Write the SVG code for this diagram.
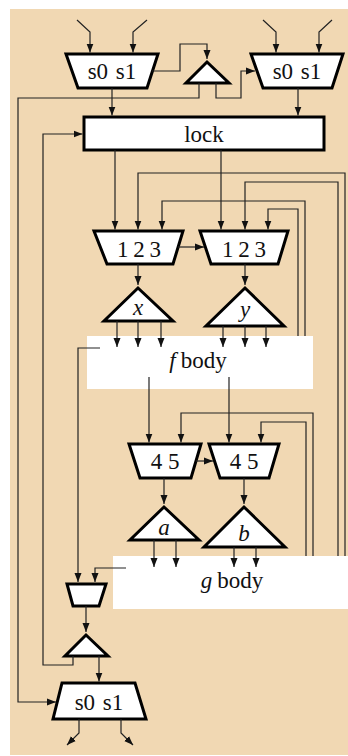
<svg xmlns="http://www.w3.org/2000/svg" width="348" height="756" viewBox="0 0 348 756">
<defs>
<marker id="ah" markerUnits="userSpaceOnUse" markerWidth="9" markerHeight="8" refX="9" refY="4" orient="auto">
<path d="M0,0.5 L9,4 L0,7.5 z" fill="#111"/>
</marker>
<style>
.shp{fill:#fff;stroke:#000;stroke-width:3;stroke-linejoin:miter}
.body{fill:#fff;stroke:none}
.t{font-family:"Liberation Serif","DejaVu Serif",serif;font-size:23px;fill:#111;text-anchor:middle}
.i{font-style:italic}
.c{fill:none;stroke:#222;stroke-width:1.2}
.c path{marker-end:url(#ah)}
</style>
</defs>
<rect x="10" y="9" width="338" height="746" fill="#f1d8b3"/>

<g id="fbody"><rect class="body" x="87" y="336" width="226" height="53"/><text class="t" x="198" y="368"><tspan class="i">f</tspan><tspan dx="5">body</tspan></text></g>
<g id="gbody"><rect class="body" x="113" y="556" width="235" height="53"/><text class="t" x="232" y="588"><tspan class="i">g</tspan><tspan dx="5">body</tspan></text></g>

<g id="mux-top-left"><polygon class="shp" points="66,54 158,54 147,88 78,88"/><text class="t" x="112" y="79" word-spacing="2">s0 s1</text></g>
<g id="mux-top-right"><polygon class="shp" points="251,54 343,54 332,88 263,88"/><text class="t" x="297" y="79" word-spacing="2">s0 s1</text></g>
<g id="tri-top"><polygon class="shp" points="207,62 229,83 186,83"/></g>
<g id="lock"><rect class="shp" x="84" y="117" width="240" height="33"/><text class="t" x="204" y="142">lock</text></g>
<g id="mux123a"><polygon class="shp" points="94,231 183,231 173,264 107,264"/><text class="t" x="139" y="257" word-spacing="-1">1 2 3</text></g>
<g id="mux123b"><polygon class="shp" points="200,231 288,231 278,264 211,264"/><text class="t" x="244" y="257" word-spacing="-1">1 2 3</text></g>
<g id="tri-x"><polygon class="shp" points="138,288 173,321 104,321"/><text class="t i" x="138" y="315">x</text></g>
<g id="tri-y"><polygon class="shp" points="245,288 284,326 206,326"/><text class="t i" x="245" y="317">y</text></g>
<g id="mux45a"><polygon class="shp" points="129,444 201,444 191,478 140,478"/><text class="t" x="165" y="469">4 5</text></g>
<g id="mux45b"><polygon class="shp" points="209,444 279,444 269,478 220,478"/><text class="t" x="244" y="469">4 5</text></g>
<g id="tri-a"><polygon class="shp" points="164,507 199,540 130,540"/><text class="t i" x="164" y="535">a</text></g>
<g id="tri-b"><polygon class="shp" points="244,507 285,547 204,547"/><text class="t i" x="244" y="541">b</text></g>
<g id="mux-small"><polygon class="shp" points="67,584 106,584 99,606 73,606"/></g>
<g id="tri-bottom"><polygon class="shp" points="86,635 108,656 65,656"/></g>
<g id="mux-bottom"><polygon class="shp" points="62,683 135,683 146,719 53,719"/><text class="t" x="99" y="710" word-spacing="2">s0 s1</text></g>

<g id="connectors" class="c">
<path d="M77,20 L90,32 L90,52.5"/>
<path d="M147,20 L133,32 L133,52.5"/>
<path d="M263,20 L276,32 L276,52.5"/>
<path d="M332,20 L319,32 L319,52.5"/>
<path d="M152,71 H180 V44 H207 V59"/>
<path d="M199,83 V98 H18 V702 H56"/>
<path d="M216,83 V98 H241 V71 H255"/>
<path d="M112,88 V115.5"/>
<path d="M298,88 V115.5"/>
<path d="M73,656 V665 H43 V134 H82.5"/>
<path d="M115,150 V229.5"/>
<path d="M221,150 V229.5"/>
<path d="M345,556 V173 H138 V229.5"/>
<path d="M338,556 V182 H245 V229.5"/>
<path d="M305,336 V201 H162 V229.5"/>
<path d="M298,336 V209 H268 V229.5"/>
<path d="M178,247 H204"/>
<path d="M138,264 V285"/>
<path d="M245,264 V285"/>
<path d="M117,321 V347"/>
<path d="M138,321 V347"/>
<path d="M161,321 V347"/>
<path d="M223,326 V347"/>
<path d="M245,326 V347"/>
<path d="M266,326 V347"/>
<path d="M100,348 H78 V582"/>
<path d="M149,377 V442.5"/>
<path d="M229,377 V442.5"/>
<path d="M313,556 V413 H181 V442.5"/>
<path d="M306,556 V422 H261 V442.5"/>
<path d="M196,461 H213"/>
<path d="M164,478 V504"/>
<path d="M244,478 V504"/>
<path d="M154,540 V567"/>
<path d="M176,540 V567"/>
<path d="M234,547 V567"/>
<path d="M256,547 V567"/>
<path d="M126,568 H95 V582"/>
<path d="M86,606 V632"/>
<path d="M99,656 V681.5"/>
<path d="M79,719 V733 L67,745"/>
<path d="M121,719 V733 L133,745"/>
</g>
</svg>
